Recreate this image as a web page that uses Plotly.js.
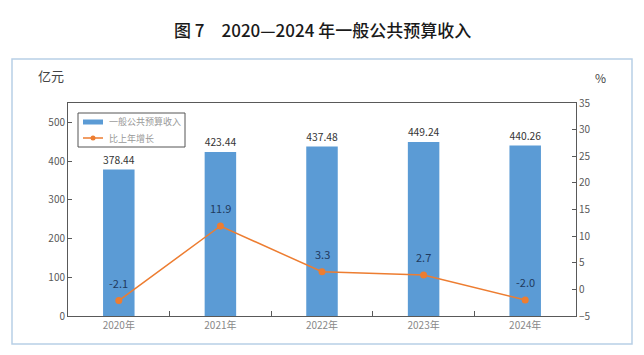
<!DOCTYPE html>
<html>
<head>
<meta charset="utf-8">
<script src="https://cdn.plot.ly/plotly-3.0.1.min.js"></script>
<style>html,body{margin:0;padding:0;background:#fff;}#chart{width:644px;height:355px;}</style>
</head>
<body>
<div id="chart"></div>
<script>
const years = ["2020年", "2021年", "2022年", "2023年", "2024年"];
const revenue = [378.44, 423.44, 437.48, 449.24, 440.26];
const growth = [-2.1, 11.9, 3.3, 2.7, -2.0];
const barName = "一般公共预算收入";
const lineName = "比上年增长";

const font = "'Noto Sans CJK SC', 'Noto Sans', sans-serif";
const BLUE = "#5b9bd5", ORANGE = "#ed7d31";

// plot area in pixels: left 68, right 576, top 103, bottom 316
const PW = 508, PH = 213;
const px = x => (x - 68) / PW;
const py = y => (316 - y) / PH;

const traces = [
  {
    type: "bar", x: years, y: revenue, name: barName,
    marker: {color: BLUE}, width: 0.31,
    text: revenue.map(v => v.toFixed(2)), textposition: "outside",
    textfont: {size: 11, color: "#333333", family: font},
    cliponaxis: false, hoverinfo: "none", showlegend: false
  },
  {
    type: "scatter", mode: "lines+markers", x: years, y: growth, name: lineName,
    yaxis: "y2", line: {color: ORANGE, width: 1.5},
    marker: {color: ORANGE, size: 7}, hoverinfo: "none", showlegend: false
  }
];

const annotations = growth.map((g, i) => ({
  x: years[i], y: g, xref: "x", yref: "y2", text: g.toFixed(1),
  showarrow: false, yshift: 18,
  font: {size: 11, color: "#1f3a5f", family: font}
}));
annotations.push(
  {xref: "paper", yref: "paper", x: px(322), y: py(30), yanchor: "middle", xanchor: "center",
   text: "图 7　2020—2024 年一般公共预算收入", showarrow: false,
   font: {size: 17, color: "#1a1a1a", family: font, weight: 500}},
  {xref: "paper", yref: "paper", x: px(36), y: py(75), xanchor: "left", yanchor: "middle",
   text: "亿元", showarrow: false, font: {size: 13, color: "#444444", family: font}},
  {xref: "paper", yref: "paper", x: px(600), y: py(77), xanchor: "center", yanchor: "middle",
   text: "%", showarrow: false, font: {size: 12, color: "#444444", family: font}},
  // custom legend texts
  {xref: "paper", yref: "paper", x: px(107), y: py(122), xanchor: "left", yanchor: "middle",
   text: barName, showarrow: false, font: {size: 9, color: "#999999", family: font}},
  {xref: "paper", yref: "paper", x: px(107), y: py(138), xanchor: "left", yanchor: "middle",
   text: lineName, showarrow: false, font: {size: 9, color: "#999999", family: font}}
);

const layout = {
  width: 644, height: 355,
  margin: {l: 68, r: 68, t: 103, b: 39},
  paper_bgcolor: "#ffffff", plot_bgcolor: "#ffffff",
  font: {family: font, color: "#595959"},
  showlegend: false,
  xaxis: {
    type: "category", showline: true, linecolor: "#595959", linewidth: 1, mirror: true,
    ticks: "inside", tickson: "boundaries", ticklen: 5, tickcolor: "#595959",
    tickfont: {size: 10, color: "#888888"}, showgrid: false, fixedrange: true
  },
  yaxis: {
    range: [0, 550], dtick: 100, showline: true, linecolor: "#595959", linewidth: 1,
    ticks: "inside", ticklen: 4, tickcolor: "#595959", showgrid: false, zeroline: false,
    tickfont: {size: 10, color: "#595959"}
  },
  yaxis2: {
    overlaying: "y", side: "right", range: [-5, 35], dtick: 5,
    showline: true, linecolor: "#595959", linewidth: 1,
    ticks: "inside", ticklen: 4, tickcolor: "#595959", showgrid: false, zeroline: false,
    tickfont: {size: 10, color: "#595959"}
  },
  shapes: [
    {type: "rect", xref: "paper", yref: "paper",
     x0: px(12), x1: px(632), y0: py(344), y1: py(59),
     line: {color: "#b8cfe6", width: 1.5}},
    // custom legend box and symbols
    {type: "rect", xref: "paper", yref: "paper",
     x0: px(78), x1: px(185), y0: py(147), y1: py(113),
     line: {color: "#555555", width: 1}, fillcolor: "#ffffff"},
    {type: "rect", xref: "paper", yref: "paper",
     x0: px(83), x1: px(103), y0: py(124.5), y1: py(119.5),
     line: {width: 0}, fillcolor: BLUE},
    {type: "line", xref: "paper", yref: "paper",
     x0: px(83), x1: px(103), y0: py(138), y1: py(138),
     line: {color: ORANGE, width: 1.5}},
    {type: "circle", xref: "paper", yref: "paper",
     x0: px(90.5), x1: px(95.5), y0: py(140.5), y1: py(135.5),
     line: {width: 0}, fillcolor: ORANGE}
  ],
  annotations: annotations
};

Plotly.newPlot("chart", traces, layout, {displayModeBar: false, staticPlot: true});
</script>
</body>
</html>
